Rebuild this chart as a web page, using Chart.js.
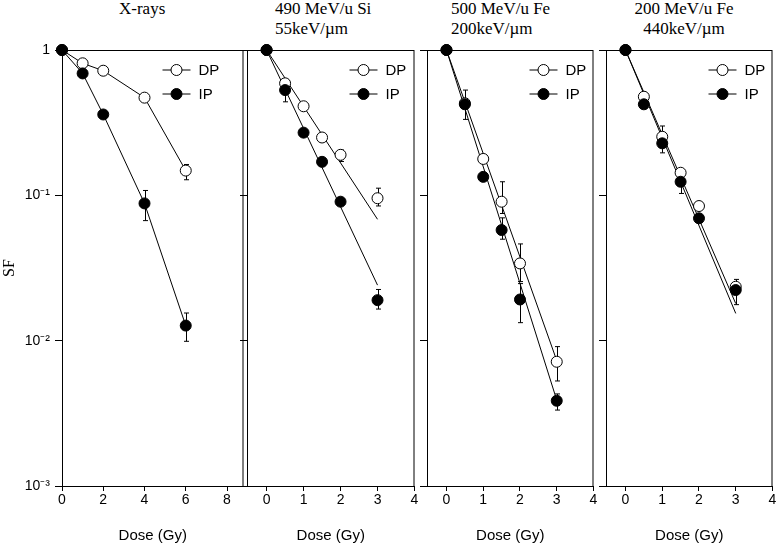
<!DOCTYPE html>
<html>
<head>
<meta charset="utf-8">
<script src="https://cdn.jsdelivr.net/npm/chart.js@4.4.1/dist/chart.umd.min.js"></script>
<style>
  body { margin: 0; background: #fff; width: 776px; height: 543px; position: relative; overflow: hidden; }
  canvas { position: absolute; top: 0; }
  .ttl { position: absolute; top: -1px; font-family: "Liberation Serif", serif; font-size: 17px; line-height: 20px; color: #000; white-space: nowrap; }
</style>
</head>
<body>
<div class="ttl" style="left:119px">X-rays</div>
<div class="ttl" style="left:275px">490 MeV/u Si<br>55keV/µm</div>
<div class="ttl" style="left:451px">500 MeV/u Fe<br>200keV/µm</div>
<div class="ttl" style="left:630px;width:108px;text-align:center">200 MeV/u Fe<br>440keV/µm</div>

<canvas id="xray" width="250" height="543" style="left:0"></canvas>
<canvas id="si490" width="181" height="543" style="left:240px"></canvas>
<canvas id="fe500" width="180" height="543" style="left:420px"></canvas>
<canvas id="fe200" width="180" height="543" style="left:599px"></canvas>

<script>
// ---- data ----
const legendLabels = ['DP', 'IP'];
const yTickValues = [0.001, 0.01, 0.1, 1];
const yTickLabels = ['10\u207B\u00B3', '10\u207B\u00B2', '10\u207B\u00B9', '1'];

// X-rays
const xrayTicks = [0, 2, 4, 6, 8];
const xrayDose = [0, 1, 2, 4, 6];
const xrayDP = [1, 0.81, 0.72, 0.47, 0.148];
const xrayIP = [1, 0.69, 0.36, 0.088, 0.0127];
const xrayDPLow = [null, null, null, null, 0.128];
const xrayDPHigh = [null, null, null, null, 0.163];
const xrayIPLow = [null, null, null, 0.067, 0.0099];
const xrayIPHigh = [null, null, null, 0.108, 0.0155];

// 490 MeV/u Si
const ionTicks = [0, 1, 2, 3, 4];
const siDose = [0, 0.5, 1, 1.5, 2, 3];
const siDP = [1, 0.59, 0.41, 0.25, 0.19, 0.0955];
const siIP = [1, 0.53, 0.27, 0.17, 0.0904, 0.019];
const siDPLow = [null, null, null, null, 0.171, 0.0845];
const siDPHigh = [null, null, null, null, 0.205, 0.112];
const siIPLow = [null, 0.44, null, null, null, 0.0165];
const siIPHigh = [null, 0.6, null, null, null, 0.0225];
const siFitDose = [0, 3];
const siFitDP = [1, 0.0684];
const siFitIP = [1, 0.0241];

// 500 MeV/u Fe
const fe500Dose = [0, 0.5, 1, 1.5, 2, 3];
const fe500DP = [1, 0.43, 0.178, 0.0904, 0.034, 0.00716];
const fe500IP = [1, 0.423, 0.134, 0.0577, 0.0192, 0.00386];
const fe500DPLow = [null, null, null, 0.075, 0.0255, 0.00528];
const fe500DPHigh = [null, null, null, 0.124, 0.0463, 0.0091];
const fe500IPLow = [null, 0.333, null, 0.0499, 0.0133, 0.00333];
const fe500IPHigh = [null, 0.53, null, 0.07, 0.0247, 0.0043];
const fe500FitDose = [0, 3];
const fe500FitDP = [1, 0.0073];
const fe500FitIP = [1, 0.0039];

// 200 MeV/u Fe
const fe200Dose = [0, 0.5, 1, 1.5, 2, 3];
const fe200DP = [1, 0.477, 0.253, 0.143, 0.0844, 0.0235];
const fe200IP = [1, 0.423, 0.228, 0.124, 0.0695, 0.0223];
const fe200DPLow = [null, null, 0.23, null, null, null];
const fe200DPHigh = [null, null, 0.3, null, null, null];
const fe200IPLow = [null, null, 0.196, 0.103, null, 0.0177];
const fe200IPHigh = [null, null, 0.26, 0.14, null, 0.0264];
const fe200FitDose = [0, 3];
const fe200FitDP = [1, 0.018];
const fe200FitIP = [1, 0.0154];

// ---- helpers ----
const sans = '"Liberation Sans", Arial, sans-serif';
const serif = '"Liberation Serif", "Times New Roman", serif';

function pts(xs, ys) {
  return xs.map((x, i) => ({ x: x, y: ys[i] }));
}

// box around plot area + error bars (drawn under the markers)
const boxAndErrors = {
  id: 'boxAndErrors',
  beforeDatasetsDraw(chart, args, opts) {
    const { ctx, chartArea, scales } = chart;
    ctx.save();
    ctx.strokeStyle = '#000';
    ctx.lineWidth = 1;
    ctx.strokeRect(chartArea.left + 0.5, chartArea.top + 0.5,
      chartArea.right - chartArea.left - 1, chartArea.bottom - chartArea.top);
    (opts.sets || []).forEach(set => {
      set.x.forEach((xv, i) => {
        if (set.low[i] == null) return;
        const px = Math.round(scales.x.getPixelForValue(xv)) + 0.5;
        const y1 = scales.y.getPixelForValue(set.low[i]);
        const y2 = scales.y.getPixelForValue(set.high[i]);
        ctx.beginPath();
        ctx.moveTo(px, y1); ctx.lineTo(px, y2);
        ctx.moveTo(px - 2.5, y1); ctx.lineTo(px + 2.5, y1);
        ctx.moveTo(px - 2.5, y2); ctx.lineTo(px + 2.5, y2);
        ctx.stroke();
      });
    });
    ctx.restore();
  }
};

// DP / IP legend inside the panel
const panelLegend = {
  id: 'panelLegend',
  afterDraw(chart, args, opts) {
    const { ctx, chartArea } = chart;
    const cx = chartArea.right - opts.offset;
    ctx.save();
    legendLabels.forEach((lab, i) => {
      const cy = chartArea.top + 20 + i * 24;
      ctx.strokeStyle = '#000';
      ctx.lineWidth = 1;
      ctx.beginPath();
      ctx.moveTo(cx - 14, cy); ctx.lineTo(cx + 14, cy);
      ctx.stroke();
      ctx.beginPath();
      ctx.arc(cx, cy, 5.5, 0, Math.PI * 2);
      ctx.fillStyle = i === 0 ? '#fff' : '#000';
      ctx.fill();
      ctx.stroke();
      ctx.fillStyle = '#000';
      ctx.font = '15px ' + sans;
      ctx.textBaseline = 'middle';
      ctx.fillText(lab, cx + 22, cy + 1);
    });
    ctx.restore();
  }
};

function markerSet(label, data, fill, showLine, order) {
  return {
    label: label,
    data: data,
    showLine: showLine,
    borderColor: '#000',
    borderWidth: 1,
    backgroundColor: fill,
    pointBackgroundColor: fill,
    pointBorderColor: '#000',
    pointBorderWidth: 1,
    pointRadius: 5.5,
    pointHoverRadius: 5.5,
    clip: false,
    order: order
  };
}

function fitSet(data) {
  return {
    data: data,
    showLine: true,
    borderColor: '#000',
    borderWidth: 1,
    pointRadius: 0,
    pointHoverRadius: 0,
    clip: false,
    order: 3
  };
}

function makePanel(id, p) {
  return new Chart(document.getElementById(id), {
    type: 'scatter',
    data: { datasets: p.datasets },
    plugins: [boxAndErrors, panelLegend],
    options: {
      responsive: false,
      animation: false,
      devicePixelRatio: 1,
      events: [],
      layout: { padding: { top: 50, right: 0, left: 0, bottom: 0 } },
      plugins: {
        legend: { display: false },
        tooltip: { enabled: false },
        panelLegend: { offset: p.legendOffset },
        boxAndErrors: { sets: p.errors }
      },
      scales: {
        x: {
          type: 'linear',
          min: p.xMin,
          max: p.xMax,
          afterBuildTicks: s => { s.ticks = p.xTicks.map(v => ({ value: v })); },
          afterFit: s => { s.height = 57; },
          ticks: { color: '#000', font: { family: sans, size: 14 }, padding: 1, maxRotation: 0, autoSkip: false },
          grid: { drawOnChartArea: false, tickLength: 5, color: '#000' },
          border: { color: '#000' },
          title: { display: true, text: 'Dose (Gy)', color: '#000', font: { family: sans, size: 15, lineHeight: 1 }, padding: 0 }
        },
        y: {
          type: 'logarithmic',
          min: 0.001,
          max: 1,
          afterBuildTicks: s => { s.ticks = yTickValues.map(v => ({ value: v })); },
          afterFit: s => { s.width = p.yWidth; },
          ticks: {
            display: p.showY,
            color: '#000',
            font: { family: sans, size: 14 },
            padding: 5,
            callback: (v, i) => yTickLabels[i]
          },
          grid: { drawOnChartArea: false, tickLength: 7, color: '#000' },
          border: { color: '#000' },
          title: { display: p.showY, text: 'SF', color: '#000', font: { family: serif, size: 16 }, padding: 0 }
        }
      }
    }
  });
}

makePanel('xray', {
  xMin: 0, xMax: 8.8, xTicks: xrayTicks, yWidth: 62, showY: true, legendOffset: 67,
  datasets: [
    markerSet('DP', pts(xrayDose, xrayDP), '#fff', true, 2),
    markerSet('IP', pts(xrayDose, xrayIP), '#000', true, 1)
  ],
  errors: [
    { x: xrayDose, low: xrayDPLow, high: xrayDPHigh },
    { x: xrayDose, low: xrayIPLow, high: xrayIPHigh }
  ]
});

makePanel('si490', {
  xMin: -0.53, xMax: 4, xTicks: ionTicks, yWidth: 7, showY: false, legendOffset: 51,
  datasets: [
    fitSet(pts(siFitDose, siFitDP)),
    fitSet(pts(siFitDose, siFitIP)),
    markerSet('DP', pts(siDose, siDP), '#fff', false, 2),
    markerSet('IP', pts(siDose, siIP), '#000', false, 1)
  ],
  errors: [
    { x: siDose, low: siDPLow, high: siDPHigh },
    { x: siDose, low: siIPLow, high: siIPHigh }
  ]
});

makePanel('fe500', {
  xMin: -0.53, xMax: 4, xTicks: ionTicks, yWidth: 7, showY: false, legendOffset: 50,
  datasets: [
    fitSet(pts(fe500FitDose, fe500FitDP)),
    fitSet(pts(fe500FitDose, fe500FitIP)),
    markerSet('DP', pts(fe500Dose, fe500DP), '#fff', false, 2),
    markerSet('IP', pts(fe500Dose, fe500IP), '#000', false, 1)
  ],
  errors: [
    { x: fe500Dose, low: fe500DPLow, high: fe500DPHigh },
    { x: fe500Dose, low: fe500IPLow, high: fe500IPHigh }
  ]
});

makePanel('fe200', {
  xMin: -0.53, xMax: 4, xTicks: ionTicks, yWidth: 7, showY: false, legendOffset: 50,
  datasets: [
    fitSet(pts(fe200FitDose, fe200FitDP)),
    fitSet(pts(fe200FitDose, fe200FitIP)),
    markerSet('DP', pts(fe200Dose, fe200DP), '#fff', false, 2),
    markerSet('IP', pts(fe200Dose, fe200IP), '#000', false, 1)
  ],
  errors: [
    { x: fe200Dose, low: fe200DPLow, high: fe200DPHigh },
    { x: fe200Dose, low: fe200IPLow, high: fe200IPHigh }
  ]
});
</script>
</body>
</html>
